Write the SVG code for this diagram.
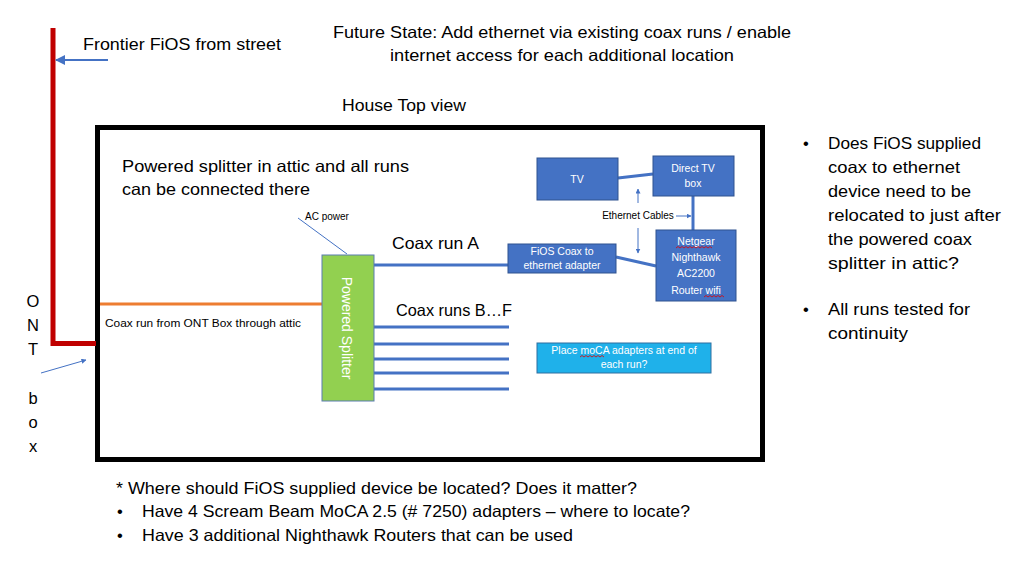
<svg xmlns="http://www.w3.org/2000/svg" width="1024" height="574" viewBox="0 0 1024 574">
<defs>
<style>
text{font-family:"Liberation Sans","Noto Sans",sans-serif;fill:#000}
.t17{font-size:16.5px}
.t10{font-size:10px}
.w{fill:#fff;font-size:10.5px}
.c{text-anchor:middle}
.box{fill:#4472C4;stroke:#2F528F;stroke-width:1}
.bl{stroke:#4472C4;stroke-width:3;fill:none}
.thin{stroke:#4472C4;stroke-width:1;fill:none}
.sq{stroke:#E00000;stroke-width:0.8;fill:none}
</style>
<marker id="ah" viewBox="0 0 10 10" refX="9" refY="5" markerWidth="5" markerHeight="5" orient="auto-start-reverse">
<path d="M0,0 L10,5 L0,10 z" fill="#4472C4"/>
</marker>
</defs>
<rect width="1024" height="574" fill="#fff"/>

<g id="title">
<text class="t17 c" x="562" y="38" textLength="458" lengthAdjust="spacingAndGlyphs">Future State: Add ethernet via existing coax runs / enable</text>
<text class="t17 c" x="562" y="61" textLength="344" lengthAdjust="spacingAndGlyphs">internet access for each additional location</text>
<text class="t17" x="342" y="111" textLength="124" lengthAdjust="spacingAndGlyphs">House Top view</text>
</g>

<g id="house">
<rect x="97.5" y="127.5" width="665" height="332" fill="none" stroke="#000" stroke-width="5"/>
</g>

<g id="street">
<text class="t17" x="83" y="50" textLength="198" lengthAdjust="spacingAndGlyphs">Frontier FiOS from street</text>
</g>

<g id="ont">
<text class="t17 c" x="33" y="307">O</text>
<text class="t17 c" x="33" y="331">N</text>
<text class="t17 c" x="33" y="355">T</text>
<text class="t17 c" x="33" y="404">b</text>
<text class="t17 c" x="33" y="428">o</text>
<text class="t17 c" x="33" y="452">x</text>
</g>

<g id="connectors">
<path d="M53,28 V343.5 H96" fill="none" stroke="#C00000" stroke-width="5"/>
<line x1="108" y1="60" x2="56" y2="60" stroke="#4472C4" stroke-width="2" marker-end="url(#ah)"/>
<line x1="41" y1="373" x2="86" y2="360" stroke="#4472C4" stroke-width="1" marker-end="url(#ah)"/>
<line x1="100" y1="304" x2="322" y2="304" stroke="#ED7D31" stroke-width="3"/>
<line x1="298" y1="218" x2="347" y2="254" class="thin"/>
<line x1="374" y1="265" x2="509" y2="265" class="bl"/>
<line x1="374" y1="327" x2="509" y2="327" class="bl"/>
<line x1="374" y1="344" x2="509" y2="344" class="bl"/>
<line x1="374" y1="359" x2="509" y2="359" class="bl"/>
<line x1="374" y1="373" x2="509" y2="373" class="bl"/>
<line x1="374" y1="389" x2="509" y2="389" class="bl"/>
<line x1="618" y1="178" x2="653" y2="174" class="bl"/>
<line x1="693" y1="196" x2="693" y2="230" class="bl"/>
<line x1="616" y1="257" x2="656" y2="266" class="bl"/>
<line x1="638" y1="203" x2="638" y2="189" class="thin" marker-end="url(#ah)"/>
<line x1="638" y1="228" x2="638" y2="253" class="thin" marker-end="url(#ah)"/>
<line x1="676" y1="216" x2="691" y2="216" class="thin" marker-end="url(#ah)"/>
</g>

<g id="labels">
<text class="t17" x="122" y="172" textLength="287" lengthAdjust="spacingAndGlyphs">Powered splitter in attic and all runs</text>
<text class="t17" x="122" y="195" textLength="188" lengthAdjust="spacingAndGlyphs">can be connected there</text>
<text class="t10" x="305" y="220">AC power</text>
<text class="t17" x="392" y="249" textLength="87" lengthAdjust="spacingAndGlyphs">Coax run A</text>
<text class="t17" x="396" y="316" textLength="116" lengthAdjust="spacingAndGlyphs">Coax runs B…F</text>
<text class="t10" x="105" y="327" textLength="196" lengthAdjust="spacingAndGlyphs">Coax run from ONT Box through attic</text>
<text class="t10 c" x="638" y="219">Ethernet Cables</text>
</g>

<g id="splitter">
<rect x="322" y="255" width="52" height="146" fill="#92D050" stroke="#5B7DB0" stroke-width="1"/>
<text x="342" y="328" transform="rotate(90 342 328)" class="c" style="fill:#fff;font-size:14px">Powered Splitter</text>
</g>

<g id="adapter">
<rect class="box" x="508" y="244" width="108" height="29"/>
<text class="w c" x="562" y="255">FiOS Coax to</text>
<text class="w c" x="562" y="269">ethernet adapter</text>
</g>

<g id="tv">
<rect class="box" x="537" y="158" width="81" height="42"/>
<text class="w c" x="577" y="183">TV</text>
</g>

<g id="directtv">
<rect class="box" x="653" y="156" width="81" height="40"/>
<text class="w c" x="693" y="172">Direct TV</text>
<text class="w c" x="693" y="187">box</text>
</g>

<g id="router">
<rect class="box" x="656" y="230" width="80" height="71"/>
<text class="w c" x="696" y="245">Netgear</text>
<text class="w c" x="696" y="261">Nighthawk</text>
<text class="w c" x="696" y="277">AC2200</text>
<text class="w c" x="696" y="294">Router wifi</text>
<path class="sq" d="M676,248 l2,-1.5 l2,1.5 l2,-1.5 l2,1.5 l2,-1.5 l2,1.5 l2,-1.5 l2,1.5 l2,-1.5 l2,1.5 l2,-1.5 l2,1.5 l2,-1.5 l2,1.5 l2,-1.5 l2,1.5 l2,-1.5 l2,1.5"/>
<path class="sq" d="M704,297 l2,-1.5 l2,1.5 l2,-1.5 l2,1.5 l2,-1.5 l2,1.5 l2,-1.5 l2,1.5 l2,-1.5 l2,1.5"/>
</g>

<g id="moca">
<rect x="537" y="343" width="174" height="30" fill="#1FB1EA" stroke="#2F6FA0" stroke-width="1"/>
<text class="w c" x="624" y="354">Place moCA adapters at end of</text>
<text class="w c" x="624" y="368">each run?</text>
<path class="sq" d="M580,357 l2,-1.5 l2,1.5 l2,-1.5 l2,1.5 l2,-1.5 l2,1.5 l2,-1.5 l2,1.5 l2,-1.5 l2,1.5 l2,-1.5 l2,1.5"/>
</g>

<g id="notes-right">
<text class="t17" x="803" y="149">•</text>
<text class="t17" x="828" y="149" textLength="153" lengthAdjust="spacingAndGlyphs">Does FiOS supplied</text>
<text class="t17" x="828" y="173" textLength="132" lengthAdjust="spacingAndGlyphs">coax to ethernet</text>
<text class="t17" x="828" y="197" textLength="143" lengthAdjust="spacingAndGlyphs">device need to be</text>
<text class="t17" x="828" y="221" textLength="173" lengthAdjust="spacingAndGlyphs">relocated to just after</text>
<text class="t17" x="828" y="245" textLength="144" lengthAdjust="spacingAndGlyphs">the powered coax</text>
<text class="t17" x="828" y="269" textLength="131" lengthAdjust="spacingAndGlyphs">splitter in attic?</text>
<text class="t17" x="803" y="315">•</text>
<text class="t17" x="828" y="315" textLength="142" lengthAdjust="spacingAndGlyphs">All runs tested for</text>
<text class="t17" x="828" y="339" textLength="80" lengthAdjust="spacingAndGlyphs">continuity</text>
</g>

<g id="notes-bottom">
<text class="t17" x="116" y="494" textLength="521" lengthAdjust="spacingAndGlyphs">* Where should FiOS supplied device be located? Does it matter?</text>
<text class="t17" x="117" y="517">•</text>
<text class="t17" x="142" y="517" textLength="548" lengthAdjust="spacingAndGlyphs">Have 4 Scream Beam MoCA 2.5 (# 7250) adapters – where to locate?</text>
<text class="t17" x="117" y="541">•</text>
<text class="t17" x="142" y="541" textLength="431" lengthAdjust="spacingAndGlyphs">Have 3 additional Nighthawk Routers that can be used</text>
</g>
</svg>
